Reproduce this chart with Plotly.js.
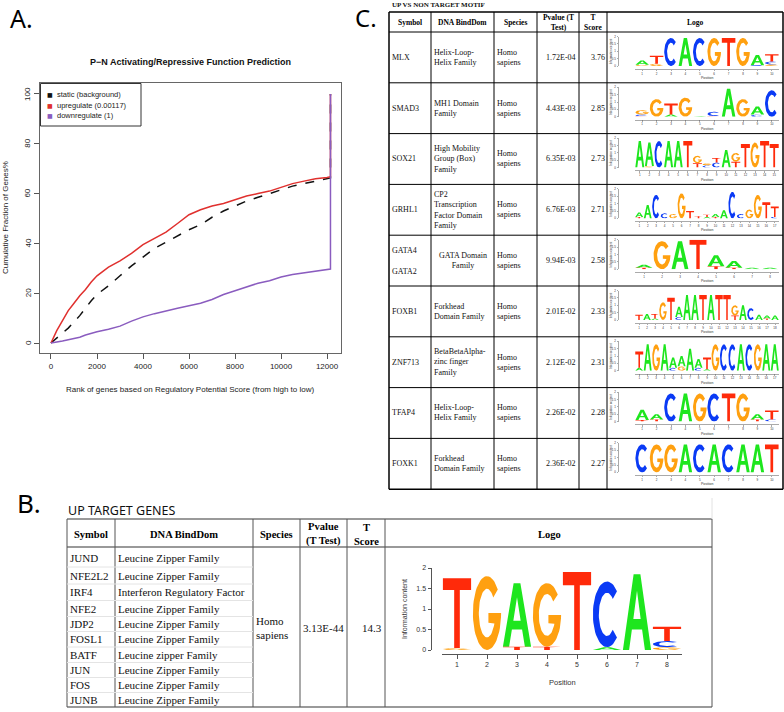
<!DOCTYPE html>
<html>
<head>
<meta charset="utf-8">
<script src="https://cdn.plot.ly/plotly-3.0.1.min.js"></script>
<style>
  html, body { margin: 0; padding: 0; background: #fff; }
  #plot { width: 784px; height: 712px; }
</style>
</head>
<body>
<div id="plot"></div>
<script>
// ---------- A. cumulative fraction curves ----------
const rankX   = [0, 250, 500, 750, 1000, 1250, 1500, 1750, 2000, 2500, 3000, 3500, 4000, 4500, 5000, 5500, 6000, 6500, 7000, 7500, 8000, 8500, 9000, 9500, 10000, 10500, 11000, 11500, 12000, 12150, 12150];
const staticY = [0, 2, 4, 6, 8.5, 11, 14, 17, 19.5, 23, 27, 31, 34.5, 38, 40.5, 43, 45.5, 47.5, 50.5, 53, 55, 57, 58.5, 60, 61.5, 63, 64, 65, 66, 66.3, 100];
const upY     = [0, 5, 9, 13, 16, 19, 21.5, 24.5, 27, 30.5, 33, 36, 39.5, 42, 44.5, 48, 51.5, 53.5, 55, 56, 57.5, 59, 60, 61, 62.5, 64, 65, 66, 66.5, 66.8, 100];
const downY   = [0, 0.3, 0.8, 1.3, 1.8, 2.3, 3.2, 4, 4.5, 5.5, 6.8, 8.8, 10.5, 11.8, 13, 14, 15, 16, 17.5, 19.5, 21, 22.5, 24, 25, 26.5, 27.5, 28.2, 28.8, 29.5, 29.7, 100];
const curveNames = ["static (background)", "upregulate (0.00117)", "downregulate (1)"];
const rankTicks = [0, 2000, 4000, 6000, 8000, 10000, 12000];
const fracTicks = [0, 20, 40, 60, 80, 100];

// ---------- C. up vs non target motif ----------
const motifSymbols = ["MLX", "SMAD3", "SOX21", "GRHL1", "GATA4<br><br>GATA2", "FOXB1", "ZNF713", "TFAP4", "FOXK1"];
const motifDomains = ["Helix-Loop-<br>Helix Family", "MH1 Domain<br>Family", "High Mobility<br>Group (Box)<br>Family",
  "CP2<br>Transcription<br>Factor Domain<br>Family", "GATA Domain<br>Family", "Forkhead<br>Domain Family",
  "BetaBetaAlpha-<br>zinc finger<br>Family", "Helix-Loop-<br>Helix Family", "Forkhead<br>Domain Family"];
const motifPvalues = ["1.72E-04", "4.43E-03", "6.35E-03", "6.76E-03", "9.94E-03", "2.01E-02", "2.12E-02", "2.26E-02", "2.36E-02"];
const motifTscores = ["3.76", "2.85", "2.73", "2.71", "2.58", "2.33", "2.31", "2.28", "2.27"];

// logo = list of positions, each a bottom-to-top stack of [base, information]
const logoMLX = [[["G",0.08],["A",0.3]], [["G",0.15],["T",0.55]], [["C",1.9]], [["A",1.9]], [["C",1.9]],
  [["G",1.9]], [["T",1.9]], [["G",1.9]], [["C",0.05],["A",0.7]], [["G",0.1],["C",0.2],["T",0.5]]];
const logoSMAD3 = [[["T",0.05],["C",0.1],["G",0.3]], [["G",1.2]], [["A",0.15],["T",0.75]], [["G",1.3]], [["A",0.03]],
  [["T",0.05],["C",0.3]], [["A",1.9]], [["G",1.2]], [["C",0.15],["A",0.55]], [["C",1.8]]];
const logoSOX21 = [[["A",1.8]], [["G",0.1],["A",1.6]], [["C",1.8]], [["A",1.8]], [["A",1.8]], [["T",1.8]],
  [["T",0.3],["G",0.5]], [["C",0.15],["G",0.15]], [["C",0.35],["T",0.3]], [["A",1.2]], [["T",0.4],["G",0.6]],
  [["T",1.6]], [["G",1.7]], [["T",1.8]], [["T",1.6]]];
const logoGRHL1 = [[["T",0.1],["A",0.3]], [["A",0.9]], [["C",1.6]], [["C",0.35]], [["G",0.3]], [["G",1.7]],
  [["T",0.5]], [["T",0.15]], [["A",0.1],["T",0.15]], [["T",0.1],["A",0.2]], [["A",0.55]], [["C",1.8]],
  [["C",0.3]], [["G",0.6]], [["G",1.6]], [["T",1.1]], [["C",0.1],["T",0.7]]];
const logoGATA = [[["T",0.1],["A",0.2]], [["G",1.9]], [["A",1.9]], [["T",2.0]], [["T",0.2],["A",0.75]],
  [["T",0.1],["A",0.45]], [["A",0.1]], [["A",0.1]]];
const logoFOXB1 = [[["T",0.35]], [["A",0.4]], [["A",0.1],["T",0.3]], [["G",1.2]], [["T",1.5]], [["C",0.2],["A",0.7]],
  [["A",1.7]], [["A",1.7]], [["T",1.7]], [["A",1.7]], [["T",1.7]], [["T",1.7]], [["T",0.3],["G",0.7]],
  [["A",1.0]], [["C",0.8]], [["A",0.35]], [["T",0.1],["A",0.2]], [["A",0.3]]];
const logoZNF713 = [[["A",0.2],["T",1.1]], [["A",1.8]], [["G",1.8]], [["A",1.8]], [["C",0.2],["A",0.7]],
  [["G",0.3],["A",0.7]], [["A",1.5]], [["C",0.2],["A",0.6]], [["A",0.1],["T",0.8]], [["G",1.8]], [["C",1.8]],
  [["C",1.8]], [["A",1.8]], [["C",1.8]], [["G",1.8]], [["A",1.8]], [["A",1.8]]];
const logoTFAP4 = [[["T",0.1],["A",0.7]], [["T",0.15],["A",0.35]], [["C",1.9]], [["A",1.9]], [["G",1.9]],
  [["C",1.9]], [["T",1.9]], [["G",1.9]], [["T",0.15],["A",0.35]], [["C",0.15],["T",0.6]]];
const logoFOXK1 = [[["C",1.9]], [["G",1.9]], [["G",1.9]], [["A",1.9]], [["C",1.9]], [["A",1.9]], [["C",1.9]],
  [["A",1.9]], [["A",1.9]], [["T",1.9]]];
const motifLogos = [logoMLX, logoSMAD3, logoSOX21, logoGRHL1, logoGATA, logoFOXB1, logoZNF713, logoTFAP4, logoFOXK1];

// ---------- B. up target genes ----------
const targetSymbols = ["JUND", "NFE2L2", "IRF4", "NFE2", "JDP2", "FOSL1", "BATF", "JUN", "FOS", "JUNB"];
const targetDomains = ["Leucine Zipper Family", "Leucine Zipper Family", "Interferon Regulatory Factor",
  "Leucine Zipper Family", "Leucine Zipper Family", "Leucine Zipper Family", "Leucine zipper Family",
  "Leucine Zipper Family", "Leucine Zipper Family", "Leucine Zipper Family"];
const targetPvalue = "3.13E-44";
const targetTscore = "14.3";
const logoUpTarget = [[["G",0.05],["T",1.7]], [["G",1.8]], [["T",0.08],["A",1.55]], [["T",0.08],["G",1.55]],
  [["T",1.9]], [["A",0.07],["C",1.6]], [["A",1.85]], [["G",0.07],["C",0.15],["T",0.35]]];

// ---------- helpers ----------
const W = 784, H = 712;
const fx = p => p / W;
const fy = p => 1 - p / H;
const SERIF = "Liberation Serif, Times New Roman, serif";
const SANS = "Liberation Sans, Arial, sans-serif";
const LABEL = "Noto Sans, Open Sans, sans-serif";

const traces = [];
const shapes = [];
const annotations = [];
const layout = {
  width: W, height: H,
  margin: { l: 0, r: 0, t: 0, b: 0 },
  paper_bgcolor: "#fff", plot_bgcolor: "rgba(0,0,0,0)",
  showlegend: false,
  shapes, annotations,
};

function txt(text, x, y, opt) {
  const a = {
    text, x: fx(x), y: fy(y), xref: "paper", yref: "paper", showarrow: false,
    xanchor: "left", yanchor: "middle", align: "left", borderpad: 0,
    font: { family: SERIF, size: 8, color: "#111" },
  };
  annotations.push(Object.assign(a, opt || {}));
}
function hline(x0, x1, y, color, w) {
  shapes.push({ type: "line", xref: "paper", yref: "paper", x0: fx(x0), x1: fx(x1), y0: fy(y), y1: fy(y), line: { color, width: w } });
}
function vline(x, y0, y1, color, w) {
  shapes.push({ type: "line", xref: "paper", yref: "paper", x0: fx(x), x1: fx(x), y0: fy(y0), y1: fy(y1), line: { color, width: w } });
}

// letter outlines in a unit box
function arc(rx, ry, a0, a1) {
  const pts = [];
  const n = Math.max(2, Math.round(Math.abs(a1 - a0) / 6));
  for (let i = 0; i <= n; i++) {
    const a = (a0 + (a1 - a0) * i / n) * Math.PI / 180;
    pts.push([0.5 + rx * Math.cos(a), 0.5 + ry * Math.sin(a)]);
  }
  return pts;
}
const GLYPHS = {
  A: [[[0,0],[0.38,1],[0.62,1],[1,0],[0.78,0],[0.68,0.27],[0.32,0.27],[0.37,0.41],[0.63,0.41],[0.5,0.78],[0.37,0.41],[0.32,0.27],[0.22,0]]],
  T: [[[0,1],[1,1],[1,0.83],[0.6,0.83],[0.6,0],[0.4,0],[0.4,0.83],[0,0.83]]],
  C: [arc(0.5, 0.5, 45, 315).concat(arc(0.29, 0.33, 315, 45))],
  G: [arc(0.5, 0.5, 40, 360).concat([[0.55, 0.5], [0.55, 0.37]], arc(0.29, 0.33, 335, 40))],
};
const BASE_COLORS = { A: "#1EE61E", C: "#0A3AF5", G: "#FFA010", T: "#FF2A0A" };

function logoTraces(logo, idx) {
  const acc = {};
  Object.keys(BASE_COLORS).forEach(b => { acc[b] = { x: [], y: [] }; });
  logo.forEach((stack, i) => {
    let base = 0;
    stack.forEach(([b, h]) => {
      GLYPHS[b].forEach(poly => {
        poly.forEach(([u, v]) => {
          acc[b].x.push(i + 1 - 0.47 + u * 0.94);
          acc[b].y.push(base + v * h);
        });
        acc[b].x.push(null); acc[b].y.push(null);
      });
      base += h;
    });
  });
  Object.keys(acc).forEach(b => {
    traces.push({
      type: "scatter", mode: "lines", x: acc[b].x, y: acc[b].y,
      xaxis: "x" + idx, yaxis: "y" + idx, fill: "toself",
      fillcolor: BASE_COLORS[b], line: { width: 0, color: BASE_COLORS[b] },
      hoverinfo: "skip", showlegend: false,
    });
  });
}

function logoAxes(idx, n, g) {
  const ticks = [];
  for (let i = 1; i <= n; i++) ticks.push(i);
  layout["xaxis" + idx] = {
    domain: [fx(g.x0), fx(g.x1)], range: [0.5, n + 0.5], anchor: "free", position: fy(g.axisY),
    tickvals: ticks, ticks: "outside", ticklen: g.fs * 0.5, tickwidth: g.lw, tickcolor: "#555",
    tickfont: { family: SANS, size: g.fs, color: "#333" },
    showline: true, linecolor: "#555", linewidth: g.lw, showgrid: false, zeroline: false, fixedrange: true,
  };
  layout["yaxis" + idx] = {
    domain: [fy(g.yBot), fy(g.yTop)], range: [0, 2], anchor: "free", position: fx(g.axisX),
    tickvals: [0, 0.5, 1, 1.5, 2], ticktext: ["0", "0.5", "1", "1.5", "2"],
    ticks: "outside", ticklen: g.fs * 0.5, tickwidth: g.lw, tickcolor: "#555", tickangle: 0,
    tickfont: { family: SANS, size: g.fs, color: "#333" },
    showline: true, linecolor: "#555", linewidth: g.lw, showgrid: false, zeroline: false, fixedrange: true,
  };
  txt("Position", (g.x0 + g.x1) / 2, g.posY, { xanchor: "center", font: { family: SANS, size: g.fs + 0.5, color: "#333" } });
  txt("Information content", g.infoX, (g.yTop + g.yBot) / 2,
    { xanchor: "center", textangle: -90, font: { family: SANS, size: g.fs, color: "#333" } });
}

// ---------- panel A ----------
const curveColors = ["#111111", "#E0302E", "#8A5CBF"];
[staticY, upY, downY].forEach((ys, k) => {
  traces.push({
    type: "scatter", mode: "lines", x: rankX, y: ys, xaxis: "x", yaxis: "y", name: curveNames[k],
    line: { color: curveColors[k], width: 1.5, dash: k === 0 ? "dash" : "solid" },
    showlegend: false, hoverinfo: "skip",
  });
});
layout.xaxis = {
  domain: [fx(40), fx(341)], range: [-478, 12608], anchor: "y",
  tickvals: rankTicks, ticktext: rankTicks.map(String), ticks: "outside", ticklen: 5, tickcolor: "#555",
  tickfont: { family: SANS, size: 8, color: "#222" },
  showline: true, mirror: true, linecolor: "#666", linewidth: 1, showgrid: false, zeroline: false,
};
layout.yaxis = {
  domain: [fy(353), fy(83)], range: [-4.0, 104.4], anchor: "x",
  tickvals: fracTicks, ticks: "outside", ticklen: 5, tickcolor: "#555", showticklabels: false,
  showline: true, mirror: true, linecolor: "#666", linewidth: 1, showgrid: false, zeroline: false,
};
// R style vertical tick labels, placed on the y scale
fracTicks.forEach(v => {
  annotations.push({
    text: String(v), xref: "paper", yref: "y", x: fx(28), y: v, showarrow: false,
    textangle: -90, xanchor: "center", yanchor: "middle", borderpad: 0,
    font: { family: SANS, size: 8, color: "#222" },
  });
});
// legend box drawn R style
shapes.push({ type: "rect", xref: "paper", yref: "paper", x0: fx(40.5), x1: fx(141), y0: fy(83.5), y1: fy(126),
  line: { color: "#333", width: 1 }, fillcolor: "#fff" });
curveNames.forEach((name, k) => {
  const y = 95 + k * 10.3;
  txt("\u25A0", 46, y, { font: { family: "DejaVu Sans", size: 6, color: curveColors[k] } });
  txt(name, 55.5, y, { font: { family: SANS, size: 7.5, color: "#222" } });
});
txt("P\u2212N Activating/Repressive Function Prediction", 190, 62,
  { xanchor: "center", font: { family: SANS, size: 9, color: "#111", weight: "bold" } });
txt("Rank of genes based on Regulatory Potential Score (from high to low)", 190, 390,
  { xanchor: "center", font: { family: SANS, size: 8, color: "#222" } });
txt("Cumulative Fraction of Genes%", 5, 218,
  { xanchor: "center", textangle: -90, font: { family: SANS, size: 8, color: "#222" } });
txt("A.", 9, 0, { yanchor: "top", font: { family: LABEL, size: 25, color: "#000" } });

// ---------- panel C ----------
txt("C.", 354, 0, { yanchor: "top", font: { family: LABEL, size: 24, color: "#000" } });
txt("UP VS NON TARGET MOTIF", 391, 5, { font: { family: SERIF, size: 7, color: "#111", weight: "bold" } });
const cCols = [389, 431, 494, 537, 579, 607, 783];
const cTop = 12, cHead = 32, cRow = 50.8;
const cBottom = cHead + cRow * motifSymbols.length;
cCols.forEach((x, i) => vline(x, cTop, cBottom, "#000", i === 0 || i === cCols.length - 1 ? 1.5 : 1));
hline(cCols[0], cCols[6], cTop, "#000", 1.5);
for (let i = 0; i <= motifSymbols.length; i++) hline(cCols[0], cCols[6], cHead + cRow * i, "#000", i === motifSymbols.length ? 1.5 : 1);
const hb = { family: SERIF, size: 7.5, color: "#000", weight: "bold" };
txt("Symbol", 410, 22, { xanchor: "center", font: hb });
txt("DNA BindDom", 462.5, 22, { xanchor: "center", font: hb });
txt("Species", 515.5, 22, { xanchor: "center", font: hb });
txt("Pvalue (T<br>Test)", 558, 22, { xanchor: "center", align: "center", font: hb });
txt("T<br>Score", 593, 22, { xanchor: "center", align: "center", font: hb });
txt("Logo", 695, 22, { xanchor: "center", font: hb });

motifSymbols.forEach((sym, i) => {
  const top = cHead + cRow * i;
  const mid = top + cRow / 2;
  txt(sym, 391, mid);
  if (i === 4) txt(motifDomains[i], 462.5, mid, { xanchor: "center", align: "center" });
  else txt(motifDomains[i], 433, mid);
  txt("Homo<br>sapiens", 496, mid);
  txt(motifPvalues[i], 577, mid, { xanchor: "right" });
  txt(motifTscores[i], 606, mid, { xanchor: "right" });
  const idx = i + 2;
  logoTraces(motifLogos[i], idx);
  logoAxes(idx, motifLogos[i].length, {
    x0: 635, x1: 779, yTop: top + 4.5, yBot: top + 34, axisY: top + 37, axisX: 618,
    posY: top + 46, infoX: 611, fs: 3, lw: 0.5,
  });
});

// ---------- panel B ----------
txt("B.", 16, 503, { font: { family: LABEL, size: 26, color: "#000" } });
txt("UP TARGET GENES", 67, 511, { font: { family: LABEL, size: 12.5, color: "#111" } });
const bCols = [67, 115, 253, 300, 347, 385, 712];
const bTop = 519, bHead = 547, bBottom = 707;
hline(bCols[0], bCols[6], bTop, "#9a9a9a", 2);
hline(bCols[0], bCols[6], bHead, "#777", 1.5);
hline(bCols[0], bCols[6], bBottom, "#9a9a9a", 2);
vline(712, 498, bTop, "#e2e2e2", 1);
bCols.forEach(x => vline(x, bTop, bBottom, "#555", 1));
const bRowY = [558, 576, 592, 609, 624, 639, 655, 670, 685, 700];
for (let i = 0; i < bRowY.length - 1; i++) {
  hline(bCols[0], bCols[2], (bRowY[i] + bRowY[i + 1]) / 2, "#e4e4e4", 1);
}
const hbB = { family: SERIF, size: 10.5, color: "#000", weight: "bold" };
txt("Symbol", 91, 534, { xanchor: "center", font: hbB });
txt("DNA BindDom", 184, 534, { xanchor: "center", font: hbB });
txt("Species", 276, 534, { xanchor: "center", font: hbB });
txt("Pvalue<br>(T Test)", 323.5, 534, { xanchor: "center", align: "center", font: hbB });
txt("T<br>Score", 366, 534, { xanchor: "center", align: "center", font: hbB });
txt("Logo", 549, 534, { xanchor: "center", font: hbB });
const bf = { family: SERIF, size: 11, color: "#111" };
targetSymbols.forEach((s, i) => {
  txt(s, 69, bRowY[i], { font: bf });
  txt(targetDomains[i], 117, bRowY[i], { font: bf });
});
txt("Homo<br>sapiens", 255, 628, { font: bf });
txt(targetPvalue, 302, 628, { font: bf });
txt(targetTscore, 383, 628, { xanchor: "right", font: bf });
logoTraces(logoUpTarget, 11);
logoAxes(11, logoUpTarget.length, {
  x0: 442, x1: 682, yTop: 568, yBot: 650, axisY: 654, axisX: 431,
  posY: 682, infoX: 404, fs: 7, lw: 1,
});

Plotly.newPlot("plot", traces, layout, { staticPlot: true });
</script>
</body>
</html>
